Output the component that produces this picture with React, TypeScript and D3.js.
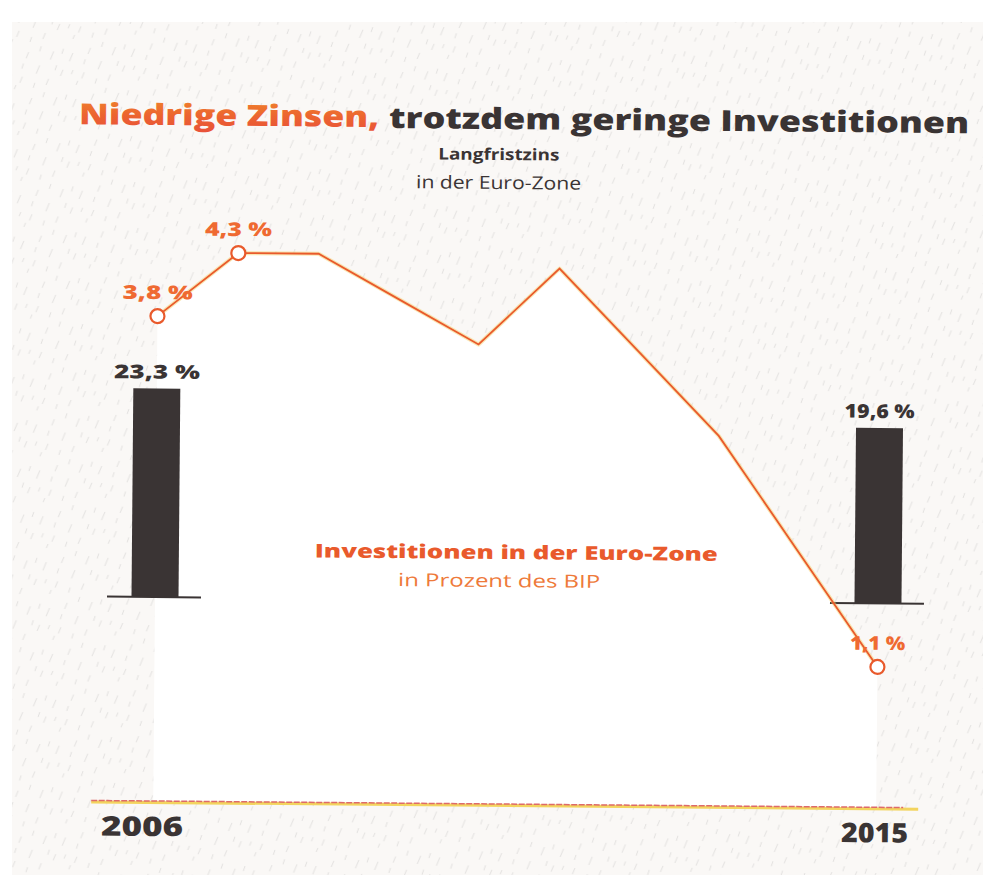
import React from "react";
import * as d3 from "d3";

// ---- data ----
const years = [2006, 2007, 2008, 2009, 2010, 2011, 2012, 2013, 2014, 2015];
const zinsValues = [3.8, 4.3, 4.3, 3.95, 3.6, 4.2, 3.55, 2.9, 2.0, 1.1];
const zinsMarked = [2006, 2007, 2015];
const barYears = [2006, 2015];
const barValues = [23.3, 19.6];
const axisYears = [2006, 2015];

const W = 983;
const H = 875;

const fmt = (v: number) => `${v.toFixed(1).replace(".", ",")} %`;

const ORANGE = "#e95a2c";
const DARK = "#3a3434";

export default function App() {
  const x = d3.scaleLinear().domain([2006, 2015]).range([155, 878]);
  const yLine = d3.scaleLinear().domain([0, 5]).range([801, 163]);
  const yBar = d3.scaleLinear().domain([0, 25]).range([597, 373.3]);
  const barW = 47;

  const pts = years.map((yr, i) => ({ yr, v: zinsValues[i] }));
  const line = d3
    .line<{ yr: number; v: number }>()
    .x((d) => x(d.yr))
    .y((d) => yLine(d.v));
  const area = d3
    .area<{ yr: number; v: number }>()
    .x((d) => x(d.yr))
    .y0(yLine(0))
    .y1((d) => yLine(d.v));

  // texture strokes inside pattern tile (styling only)
  const strokes = [
    [3, 20, 7, 12], [14, 38, 17, 32], [22, 14, 25, 8], [31, 30, 35, 22],
    [40, 42, 43, 36], [46, 17, 50, 9], [55, 34, 58, 28], [8, 44, 10, 40],
    [27, 44, 29, 39], [36, 8, 38, 3], [50, 28, 52, 23], [17, 24, 19, 19],
    [58, 12, 60, 7], [4, 33, 6, 29],
  ];

  const barLabelLen = [86, 70];
  const axisLen = [82, 67];
  const pointLabelLen: Record<number, number> = { 2006: 70, 2007: 67, 2015: 55 };

  return (
    <svg
      width={W}
      height={H}
      style={{ position: "absolute", left: 0, top: 0, display: "block" }}
      fontFamily="'Open Sans', sans-serif"
    >
      <defs>
        <pattern id="paper" patternUnits="userSpaceOnUse" width={62} height={46} patternTransform="rotate(-4)">
          {strokes.map((s, i) => (
            <line key={i} x1={s[0]} y1={s[1]} x2={s[2]} y2={s[3]} stroke="#8a8a8a" strokeWidth={0.7} strokeOpacity={0.32} />
          ))}
        </pattern>
        <linearGradient id="titleGrad" x1="0" y1="0" x2="0" y2="1">
          <stop offset="0" stopColor="#f08a2a" />
          <stop offset="0.55" stopColor="#ec6430" />
          <stop offset="1" stopColor="#e8503a" />
        </linearGradient>
      </defs>
      <rect x={0} y={0} width={W} height={H} fill="#ffffff" />
      <rect x={12} y={22} width={W - 12} height={H - 22} fill="#faf8f6" />
      <rect x={12} y={22} width={W - 12} height={H - 22} fill="url(#paper)" />

      <g transform="rotate(0.5, 155, 597)">
        {/* white area under line */}
        <path d={area(pts) || ""} fill="#ffffff" />

        {/* title */}
        <text x={75} y={125} fontSize={29} fontWeight={800} fill="url(#titleGrad)" textLength={300} lengthAdjust="spacingAndGlyphs">
          Niedrige Zinsen,
        </text>
        <text x={385} y={126} fontSize={29} fontWeight={800} fill={DARK} textLength={580} lengthAdjust="spacingAndGlyphs">
          trotzdem geringe Investitionen
        </text>
        <text x={495} y={157} textAnchor="middle" fontSize={16} fontWeight={700} fill={DARK} textLength={121} lengthAdjust="spacingAndGlyphs">
          Langfristzins
        </text>
        <text x={495} y={186} textAnchor="middle" fontSize={18} fontWeight={400} fill={DARK} textLength={165} lengthAdjust="spacingAndGlyphs">
          in der Euro-Zone
        </text>

        {/* bars */}
        {barYears.map((yr, i) => (
          <g key={yr}>
            <rect x={x(yr) - barW / 2} y={yBar(barValues[i])} width={barW} height={yBar(0) - yBar(barValues[i])} fill={DARK} />
            <line x1={x(yr) - 48} x2={x(yr) + 46} y1={yBar(0)} y2={yBar(0)} stroke={DARK} strokeWidth={2} />
            <text x={x(yr)} y={yBar(barValues[i]) - 10} textAnchor="middle" fontSize={19} fontWeight={800} fill={DARK} textLength={barLabelLen[i]} lengthAdjust="spacingAndGlyphs">
              {fmt(barValues[i])}
            </text>
          </g>
        ))}

        {/* middle labels */}
        <text x={516} y={556} textAnchor="middle" fontSize={19} fontWeight={800} fill={ORANGE} textLength={403} lengthAdjust="spacingAndGlyphs">
          Investitionen in der Euro-Zone
        </text>
        <text x={499} y={584} textAnchor="middle" fontSize={18} fontWeight={400} fill="#ee7a3a" textLength={202} lengthAdjust="spacingAndGlyphs">
          in Prozent des BIP
        </text>

        {/* line */}
        <path d={line(pts) || ""} fill="none" stroke="#f6cf6a" strokeWidth={4} strokeOpacity={0.5} strokeLinejoin="round" />
        <path d={line(pts) || ""} fill="none" stroke={ORANGE} strokeWidth={1.8} strokeLinejoin="miter" />

        {pts
          .filter((d) => zinsMarked.includes(d.yr))
          .map((d) => (
            <g key={d.yr}>
              <circle cx={x(d.yr)} cy={yLine(d.v)} r={7} fill="#ffffff" stroke={ORANGE} strokeWidth={2.2} />
              <text x={x(d.yr)} y={yLine(d.v) - 17} textAnchor="middle" fontSize={19} fontWeight={800} fill="#ef6a32" textLength={pointLabelLen[d.yr]} lengthAdjust="spacingAndGlyphs">
                {fmt(d.v)}
              </text>
            </g>
          ))}

        {/* x axis */}
        <line x1={93} x2={920} y1={yLine(0) + 1.5} y2={yLine(0) + 1.5} stroke="#f3d45e" strokeWidth={3} />
        <line x1={93} x2={905} y1={yLine(0)} y2={yLine(0)} stroke="#de6a6a" strokeWidth={1.5} strokeDasharray="6 1.5" />
        {axisYears.map((yr, i) => (
          <text key={yr} x={i === 0 ? 103 : 843} y={836} fontSize={27} fontWeight={800} fill={DARK} textLength={axisLen[i]} lengthAdjust="spacingAndGlyphs">
            {yr}
          </text>
        ))}
      </g>
    </svg>
  );
}
